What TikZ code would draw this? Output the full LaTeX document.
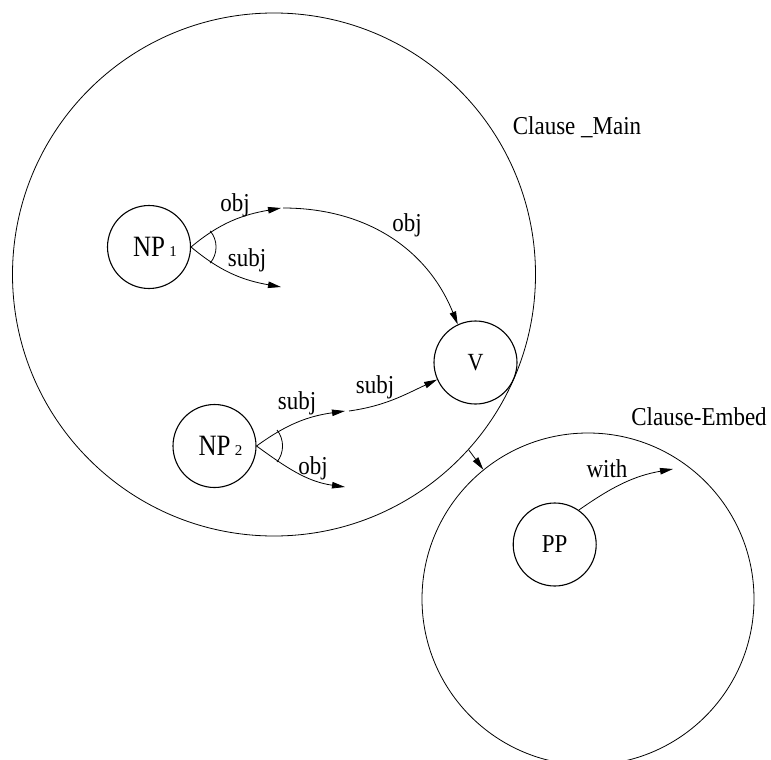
\documentclass[tikz,border=0pt]{standalone}
\usepackage{fontspec}
\setmainfont{Liberation Serif}
\usetikzlibrary{arrows.meta}
% slightly tall lettering used for every label
\newcommand{\tall}[1]{\scalebox{1}[1.12]{#1}}
% noun phrase label: "NP" with a small index on the same baseline
\newcommand{\nplabel}[1]{\hspace*{12pt}\raisebox{-3pt}{\scalebox{1}[1.18]{NP}\,{\fontsize{15}{15}\selectfont #1}}}
\begin{document}
\begin{tikzpicture}[x=1pt,y=1pt,
  region/.style={circle,draw,line width=0.8pt,inner sep=0pt,minimum size=#1},
  entity/.style={circle,draw,line width=1.1pt,inner sep=0pt,minimum size=83pt,
    font=\fontsize{25}{26}\selectfont},
  lbl/.style={font=\fontsize{23}{26}\selectfont,inner sep=0pt},
  rel/.style={line width=0.8pt,-{Triangle[length=13pt,width=6.5pt]}},
  wedge/.style={line width=0.8pt}]
\useasboundingbox (0,0) rectangle (771,-760);

% clause regions
\node[region=523pt] (main) at (274,-274.5) {};
\node[region=332pt] (embed) at (588,-599) {};
\node[lbl] (mainlbl) at (577,-127) {\tall{Clause \_Main}};
\node[lbl] (embedlbl) at (699,-417) {\tall{Clause-Embed}};

% constituents
\node[entity] (np1) at (149,-247) {\nplabel{1}};
\node[entity] (np2) at (214.5,-446) {\nplabel{2}};
\node[entity,font=\fontsize{22}{26}\selectfont] (v) at (475.5,-362.5) {\tall{V}};
\node[entity,font=\fontsize{23}{26}\selectfont] (pp) at (554.7,-544.5) {\tall{PP}};

% open ends of the relations
\coordinate (o1) at (281,-208);
\coordinate (o1b) at (283,-208);
\coordinate (s1) at (281,-287);
\coordinate (s2) at (345,-411);
\coordinate (s2b) at (349,-411);
\coordinate (o2) at (345,-487);
\coordinate (w) at (673,-469);

% NP1 relations
\draw[rel] (np1.east) to[out=40,in=190] (o1);
\draw[rel] (np1.east) to[out=-40,in=170] (s1);
\draw[wedge] ([shift={(40:25)}]np1.east) arc[start angle=40,end angle=-40,radius=25];
\draw[rel] (o1b) to[out=0,in=112] (v.115);
\node[lbl] (lo1) at (235,-205) {\tall{obj}};
\node[lbl] (ls1) at (247,-260) {\tall{subj}};
\node[lbl] (lo1b) at (407,-225) {\tall{obj}};

% NP2 relations
\draw[rel] (np2.east) to[out=36,in=188] (s2);
\draw[rel] (np2.east) to[out=-36,in=172] (o2);
\draw[wedge] ([shift={(38:26)}]np2.east) arc[start angle=38,end angle=-38,radius=26];
\draw[rel] (s2b) to[out=8,in=205] (v.204);
\node[lbl] (ls2) at (297,-403) {\tall{subj}};
\node[lbl] (lo2) at (313,-468) {\tall{obj}};
\node[lbl] (ls2b) at (375,-387) {\tall{subj}};

% PP relation
\draw[rel] (pp.55) to[out=35,in=190] (w);
\node[lbl] (lw) at (607,-469) {\tall{with}};

% embedding link
\draw[rel] (main.-42.6) -- (embed.129.4);
\end{tikzpicture}
\end{document}
